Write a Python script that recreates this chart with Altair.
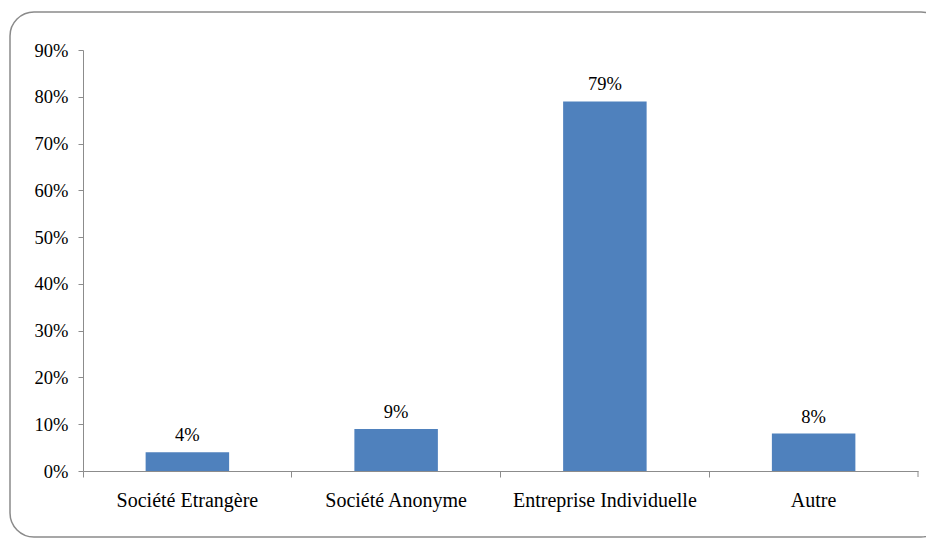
import altair as alt
import pandas as pd

categories = ["Société Etrangère", "Société Anonyme", "Entreprise Individuelle", "Autre"]
values = [0.04, 0.09, 0.79, 0.08]
labels = ["4%", "9%", "79%", "8%"]

df = pd.DataFrame({"cat": categories, "val": values, "lab": labels})

FONT = "Liberation Serif"
AXIS_COLOR = "#8c8c8c"

x_enc = alt.X("cat:N", sort=categories, title=None,
              scale=alt.Scale(paddingInner=0, paddingOuter=0),
              axis=alt.Axis(labelAngle=0, labelFont=FONT, labelFontSize=20,
                            labelColor="#000000", labelPadding=13, labelLimit=400,
                            domainColor=AXIS_COLOR, tickColor=AXIS_COLOR,
                            tickSize=6, bandPosition=0, grid=False))
y_enc = alt.Y("val:Q", title=None,
              scale=alt.Scale(domain=[0, 0.9], nice=False),
              axis=alt.Axis(format=".0%", values=[i / 10 for i in range(10)],
                            labelFont=FONT, labelFontSize=18.5, labelColor="#000000",
                            labelPadding=10, domainColor=AXIS_COLOR,
                            tickColor=AXIS_COLOR, tickSize=5, grid=False))

bars = alt.Chart(df).mark_bar(color="#4F81BD", width=alt.RelativeBandSize(0.4)).encode(
    x=x_enc, y=y_enc)

text = alt.Chart(df).mark_text(font=FONT, fontSize=18.5, color="#000000",
                               baseline="alphabetic", dy=-11).encode(
    x=alt.X("cat:N", sort=categories), y="val:Q", text="lab:N")

end_tick = alt.Chart(df.head(1)).mark_rule(color=AXIS_COLOR, strokeWidth=1).encode(
    x=alt.value(835), y=alt.value(421), y2=alt.value(427))

frame = alt.Chart(df.head(1)).mark_rect(
    fill=None, stroke="#8a8a8a", strokeWidth=1.5, cornerRadius=24).encode(
    x=alt.value(-73), x2=alt.value(862), y=alt.value(-38), y2=alt.value(487))

chart = alt.layer(frame, bars, text, end_tick).properties(
    width=835, height=421,
    padding={"left": 83, "top": 50, "right": 8, "bottom": 68},
    autosize=alt.AutoSizeParams(type="none"),
    background="white",
).configure_view(stroke=None)

chart.save("out.html", embed_options={"renderer": "svg", "actions": False})
